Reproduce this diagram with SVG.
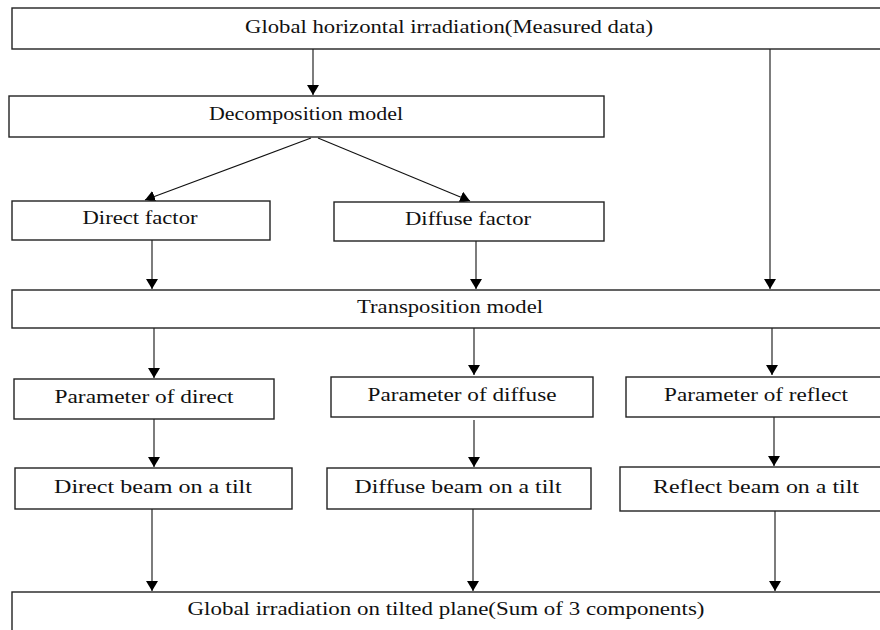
<svg xmlns="http://www.w3.org/2000/svg" width="880" height="630" viewBox="0 0 880 630">
<style>
.box{fill:#fff;stroke:#222;stroke-width:1.4}
.t{font-family:"Liberation Serif","DejaVu Serif",serif;font-size:18px;fill:#111;text-anchor:middle}
.c{stroke:#111;stroke-width:1.1;fill:none;marker-end:url(#ah)}
</style>
<defs>
<marker id="ah" viewBox="0 0 10 12" refX="10" refY="6" markerWidth="10" markerHeight="12" markerUnits="userSpaceOnUse" orient="auto">
<path d="M0,0 L10,6 L0,12 Z" fill="#000"/>
</marker>
</defs>
<rect width="880" height="630" fill="#fff"/>
<g id="connectors">
<line class="c" x1="313" y1="49" x2="313" y2="95"/>
<line class="c" x1="770" y1="49" x2="770" y2="289"/>
<line class="c" x1="311" y1="138" x2="145" y2="200"/>
<line class="c" x1="318" y1="138" x2="470" y2="201"/>
<line class="c" x1="152" y1="240" x2="152" y2="289"/>
<line class="c" x1="476" y1="241" x2="476" y2="289"/>
<line class="c" x1="154" y1="328" x2="154" y2="378"/>
<line class="c" x1="474" y1="328" x2="474" y2="375"/>
<line class="c" x1="772" y1="328" x2="772" y2="375"/>
<line class="c" x1="154" y1="419" x2="154" y2="467"/>
<line class="c" x1="474" y1="420" x2="474" y2="467"/>
<line class="c" x1="774" y1="416" x2="774" y2="466"/>
<line class="c" x1="152" y1="509" x2="152" y2="591"/>
<line class="c" x1="473" y1="509" x2="473" y2="591"/>
<line class="c" x1="775" y1="511" x2="775" y2="591"/>
</g>
<g id="global-horizontal">
<rect class="box" x="12" y="8" width="880" height="41"/>
<text class="t" x="449" y="33" textLength="408" lengthAdjust="spacingAndGlyphs">Global horizontal irradiation(Measured data)</text>
</g>
<g id="decomposition">
<rect class="box" x="9" y="96" width="595" height="41"/>
<text class="t" x="306" y="120" textLength="194" lengthAdjust="spacingAndGlyphs">Decomposition model</text>
</g>
<g id="direct-factor">
<rect class="box" x="12" y="201" width="258" height="39"/>
<text class="t" x="140" y="224" textLength="115" lengthAdjust="spacingAndGlyphs">Direct factor</text>
</g>
<g id="diffuse-factor">
<rect class="box" x="334" y="202" width="270" height="39"/>
<text class="t" x="468" y="225" textLength="126" lengthAdjust="spacingAndGlyphs">Diffuse factor</text>
</g>
<g id="transposition">
<rect class="box" x="12" y="290" width="880" height="38"/>
<text class="t" x="450" y="313" textLength="186" lengthAdjust="spacingAndGlyphs">Transposition model</text>
</g>
<g id="param-direct">
<rect class="box" x="14" y="379" width="260" height="40"/>
<text class="t" x="144" y="403" textLength="179" lengthAdjust="spacingAndGlyphs">Parameter of direct</text>
</g>
<g id="param-diffuse">
<rect class="box" x="331" y="377" width="262" height="40"/>
<text class="t" x="462" y="401" textLength="189" lengthAdjust="spacingAndGlyphs">Parameter of diffuse</text>
</g>
<g id="param-reflect">
<rect class="box" x="626" y="377" width="270" height="40"/>
<text class="t" x="756" y="401" textLength="184" lengthAdjust="spacingAndGlyphs">Parameter of reflect</text>
</g>
<g id="direct-beam">
<rect class="box" x="15" y="468" width="277" height="41"/>
<text class="t" x="153" y="493" textLength="198" lengthAdjust="spacingAndGlyphs">Direct beam on a tilt</text>
</g>
<g id="diffuse-beam">
<rect class="box" x="327" y="468" width="264" height="41"/>
<text class="t" x="458" y="493" textLength="207" lengthAdjust="spacingAndGlyphs">Diffuse beam on a tilt</text>
</g>
<g id="reflect-beam">
<rect class="box" x="620" y="467" width="276" height="44"/>
<text class="t" x="756" y="493" textLength="206" lengthAdjust="spacingAndGlyphs">Reflect beam on a tilt</text>
</g>
<g id="global-tilted">
<rect class="box" x="12" y="592" width="880" height="50"/>
<text class="t" x="446" y="615" textLength="517" lengthAdjust="spacingAndGlyphs">Global irradiation on tilted plane(Sum of 3 components)</text>
</g>
</svg>
